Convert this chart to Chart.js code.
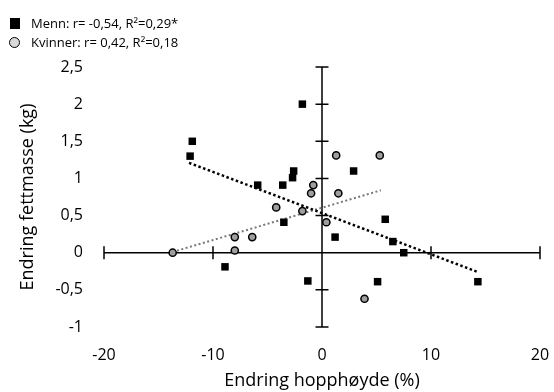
<!DOCTYPE html>
<html>
<head>
<meta charset="utf-8">
<script src="https://cdn.jsdelivr.net/npm/chart.js@4.4.0/dist/chart.umd.min.js"></script>
<style>
body { margin: 0; background: #fff; }
#wrap { position: relative; width: 554px; height: 392px; }
.leg { position: absolute; left: 31px; font-family: 'Open Sans', sans-serif; font-size: 13px; color: #000; white-space: nowrap; line-height: 16px; }
.sq { position: absolute; left: 10px; top: 18px; width: 10px; height: 11px; background: #000; }
.ring { position: absolute; left: 9px; top: 36.5px; width: 9px; height: 9px; border: 1.5px solid #000; border-radius: 50%; background: #d9d9d9; }
</style>
</head>
<body>
<div id="wrap">
  <canvas id="grafico"></canvas>
  <span class="sq"></span>
  <div class="leg" style="top:15px">Menn: r= -0,54, R²=0,29*</div>
  <span class="ring"></span>
  <div class="leg" style="top:34px">Kvinner: r= 0,42, R²=0,18</div>
</div>
<script>
// endring hopphøyde (%) og endring fettmasse (kg)
const mennX = [-12.1, -11.9, -8.9, -5.9, -3.6, -3.5, -2.7, -2.6, -1.8, -1.3, 1.2, 2.9, 5.1, 5.8, 6.5, 7.5, 14.3];
const mennY = [1.3, 1.5, -0.19, 0.91, 0.91, 0.41, 1.01, 1.1, 2.0, -0.38, 0.21, 1.1, -0.39, 0.45, 0.15, 0.0, -0.39];
const kvinnerX = [-13.7, -8.0, -8.0, -6.4, -4.2, -1.8, -1.0, -0.8, 0.4, 1.3, 1.5, 3.9, 5.3];
const kvinnerY = [0.0, 0.03, 0.21, 0.21, 0.61, 0.56, 0.8, 0.91, 0.41, 1.31, 0.8, -0.62, 1.31];
const trendMennX = [-12.2, 14.3];
const trendMennY = [1.21, -0.26];
const trendKvinnerX = [-13.7, 5.4];
const trendKvinnerY = [0.01, 0.84];
const xTicks = [-20, -10, 0, 10, 20];
const yTicks = [-1, -0.5, 0, 0.5, 1, 1.5, 2, 2.5];

function punkter(xs, ys) {
    return xs.map(function (v, i) { return { x: v, y: ys[i] }; });
}

// aksene krysser i origo, med tverrstreker
const akser = {
    id: 'akser',
    beforeDatasetsDraw(chart) {
        const ctx = chart.ctx;
        const x = chart.scales.x, y = chart.scales.y;
        const x0 = x.getPixelForValue(0), y0 = y.getPixelForValue(0);
        ctx.save();
        ctx.strokeStyle = '#000';
        ctx.lineWidth = 1.5;
        ctx.beginPath();
        ctx.moveTo(x.getPixelForValue(xTicks[0]), y0);
        ctx.lineTo(x.getPixelForValue(xTicks[xTicks.length - 1]), y0);
        ctx.moveTo(x0, y.getPixelForValue(yTicks[0]));
        ctx.lineTo(x0, y.getPixelForValue(yTicks[yTicks.length - 1]));
        xTicks.forEach(function (v) {
            const p = x.getPixelForValue(v);
            ctx.moveTo(p, y0 - 6.5);
            ctx.lineTo(p, y0 + 6.5);
        });
        yTicks.forEach(function (v) {
            const p = y.getPixelForValue(v);
            ctx.moveTo(x0 - 6.5, p);
            ctx.lineTo(x0 + 6.5, p);
        });
        ctx.stroke();
        ctx.restore();
    }
};

const fontTick = { family: "'Open Sans', sans-serif", size: 16 };
const fontTittel = { family: "'Open Sans', sans-serif", size: 18 };

new Chart(document.getElementById('grafico'), {
    type: 'scatter',
    data: {
        datasets: [{
            label: 'Menn',
            data: punkter(mennX, mennY),
            pointStyle: 'rect',
            pointRadius: 5.3,
            backgroundColor: '#000',
            borderColor: '#000',
            borderWidth: 0,
            order: 1
        }, {
            label: 'Kvinner',
            data: punkter(kvinnerX, kvinnerY),
            pointStyle: 'circle',
            pointRadius: 3.6,
            backgroundColor: '#9e9e9e',
            borderColor: '#000',
            borderWidth: 1.5,
            order: 2
        }, {
            label: 'Trend menn',
            data: punkter(trendMennX, trendMennY),
            showLine: true,
            pointRadius: 0,
            borderColor: '#000',
            borderWidth: 2.5,
            borderDash: [2.5, 2.5],
            order: 3
        }, {
            label: 'Trend kvinner',
            data: punkter(trendKvinnerX, trendKvinnerY),
            showLine: true,
            pointRadius: 0,
            borderColor: '#777',
            borderWidth: 2,
            borderDash: [2, 2.5],
            order: 4
        }]
    },
    options: {
        responsive: true,
        maintainAspectRatio: false,
        animation: false,
        layout: { padding: { top: 67, right: 14, left: 0, bottom: 0 } },
        plugins: { legend: { display: false }, tooltip: { enabled: false } },
        scales: {
            x: {
                type: 'linear',
                min: -20, max: 20,
                afterFit: function (s) { s.height = 65; s.paddingLeft = 0; s.paddingRight = 0; },
                afterBuildTicks: function (s) { s.ticks = xTicks.map(function (v) { return { value: v }; }); },
                grid: { display: false, drawTicks: false },
                border: { display: false },
                ticks: { color: '#000', font: fontTick, padding: 19, maxRotation: 0 },
                title: { display: true, text: 'Endring hopphøyde (%)', color: '#000', font: fontTittel, padding: { bottom: 0 } }
            },
            y: {
                type: 'linear',
                min: -1, max: 2.5,
                afterFit: function (s) { s.width = 104; s.paddingTop = 0; s.paddingBottom = 0; },
                afterBuildTicks: function (s) { s.ticks = yTicks.map(function (v) { return { value: v }; }); },
                grid: { display: false, drawTicks: false },
                border: { display: false },
                ticks: {
                    color: '#000', font: fontTick, padding: 21,
                    callback: function (v) { return String(v).replace('.', ','); }
                },
                title: { display: true, text: 'Endring fettmasse (kg)', color: '#000', font: fontTittel, padding: { top: 17 } }
            }
        }
    },
    plugins: [akser]
});
</script>
</body>
</html>
